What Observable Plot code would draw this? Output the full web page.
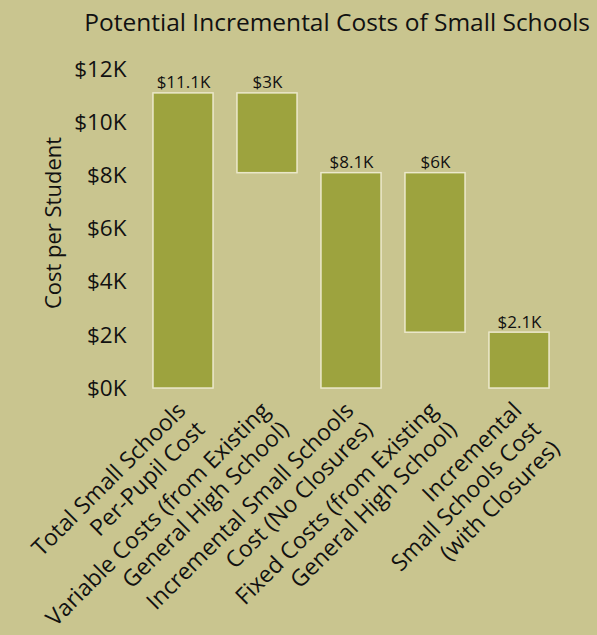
<!DOCTYPE html>
<html>
<head>
<meta charset="utf-8">
<script src="https://cdn.jsdelivr.net/npm/d3@7"></script>
<script src="https://cdn.jsdelivr.net/npm/@observablehq/plot@0.6"></script>
<style>
  html, body { margin: 0; padding: 0; background: #c9c58f; }
  body { width: 597px; height: 635px; overflow: hidden; font-family: "Open Sans", sans-serif; }
  #title { height: 45px; box-sizing: border-box; padding: 6px 7px 0 0; text-align: right;
           font-size: 24.5px; color: #111; line-height: 32px; white-space: nowrap; }
  #chart svg { display: block; }
</style>
</head>
<body>
<div id="title">Potential Incremental Costs of Small Schools</div>
<div id="chart"></div>
<script>
const categories = [
  "Total Small Schools\nPer-Pupil Cost",
  "Variable Costs (from Existing\nGeneral High School)",
  "Incremental Small Schools\nCost (No Closures)",
  "Fixed Costs (from Existing\nGeneral High School)",
  "Incremental\nSmall Schools Cost\n(with Closures)"
];
const barStart = [0, 8.1, 0, 2.1, 0];      // $K
const barEnd   = [11.1, 11.1, 8.1, 8.1, 2.1]; // $K
const valueLabels = ["$11.1K", "$3K", "$8.1K", "$6K", "$2.1K"];
const yTicks = [0, 2, 4, 6, 8, 10, 12];
const yLabel = "Cost per Student";

const rows = categories.map((c, i) => ({
  category: c, y1: barStart[i], y2: barEnd[i], label: valueLabels[i]
}));

const font = "'Open Sans', sans-serif";
const chart = Plot.plot({
  width: 597,
  height: 590,
  marginTop: 24,
  marginBottom: 247,
  marginLeft: 139,
  marginRight: 34,
  style: { background: "transparent", fontFamily: font, fontSize: "22.5px", color: "#111" },
  x: { domain: categories, paddingInner: 0.28, paddingOuter: 0.14, axis: null },
  y: { domain: [0, 12], ticks: yTicks, tickFormat: d => `$${d}K`, tickSize: 0, tickPadding: 13, label: null },
  marks: [
    Plot.barY(rows, { x: "category", y1: "y1", y2: "y2", fill: "#9da33e", stroke: "#f4f1dc", strokeWidth: 1.5, strokeOpacity: 0.85 }),
    Plot.text(rows, { x: "category", y: "y2", text: "label", dy: -5, lineAnchor: "bottom", fontSize: 17, fill: "#111" }),
    Plot.text(rows, { x: "category", frameAnchor: "bottom", text: "category", rotate: -45, textAnchor: "end", lineAnchor: "top",
                      dx: -10, dy: 10, fontSize: 23, lineHeight: 1.17, fill: "#111" }),
    Plot.text([yLabel], { frameAnchor: "left", text: d => d, rotate: -90, textAnchor: "middle", dx: -86, dy: -6, fontSize: 22, fill: "#111" })
  ]
});
document.getElementById("chart").appendChild(chart);
</script>
</body>
</html>
